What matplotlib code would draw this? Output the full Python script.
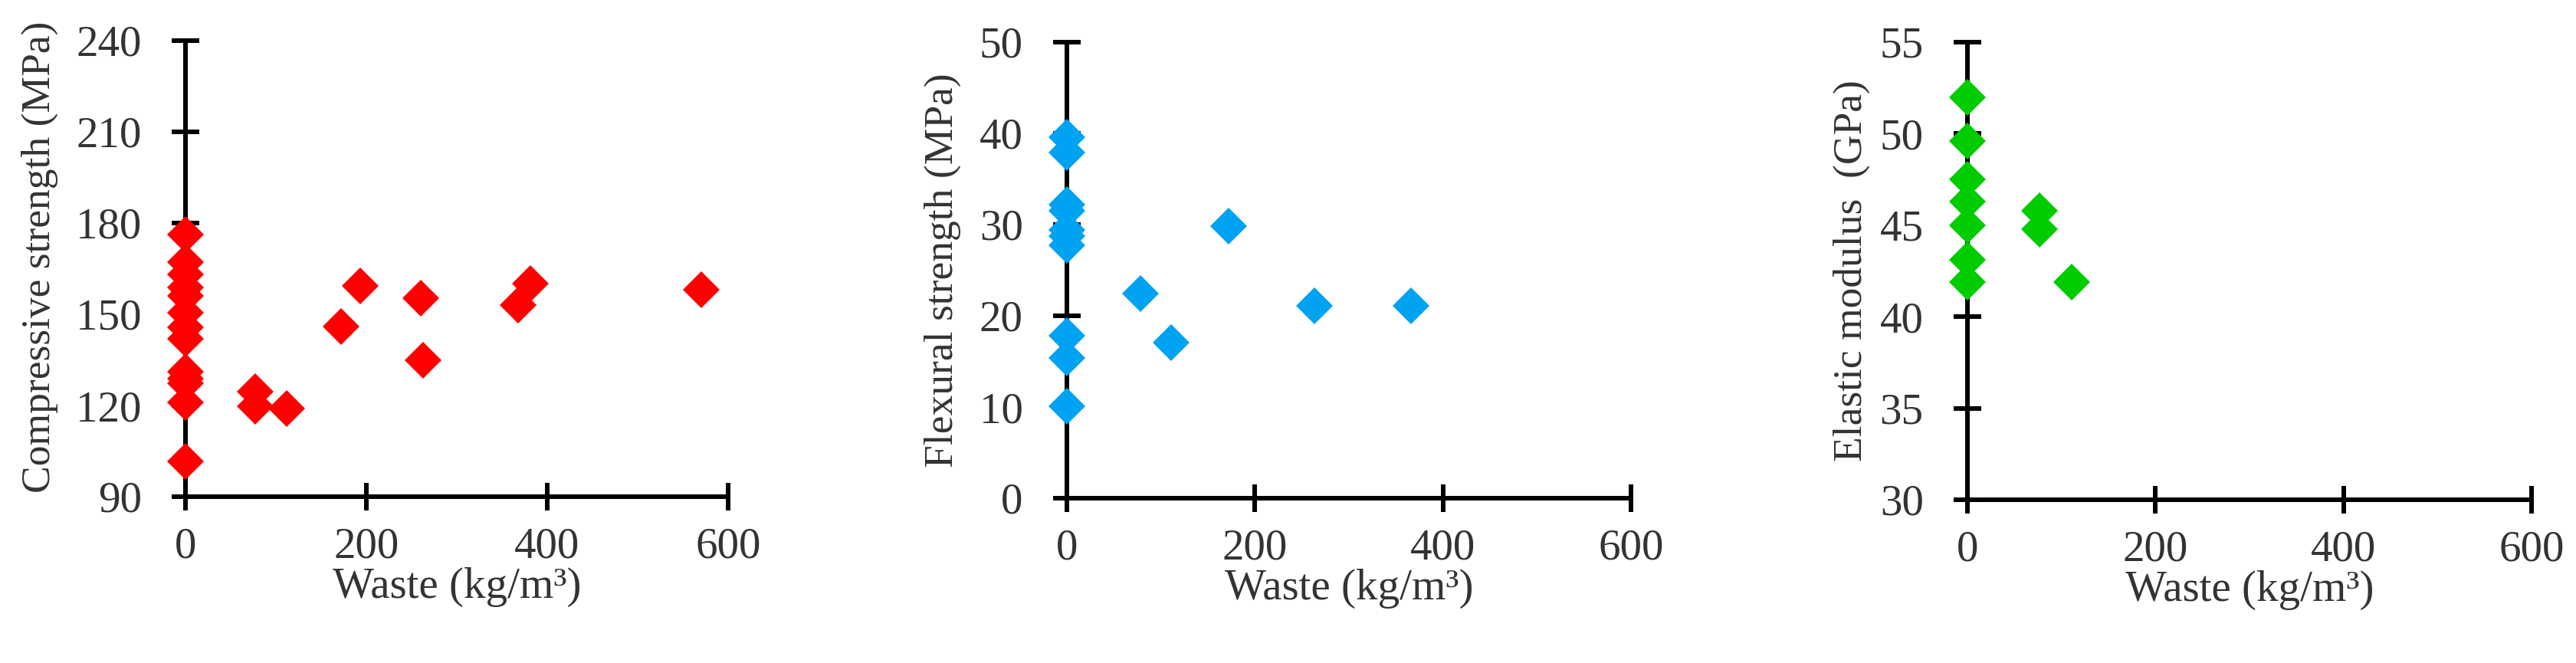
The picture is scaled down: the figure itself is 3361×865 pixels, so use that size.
import matplotlib
matplotlib.use('Agg')
import matplotlib.pyplot as plt

# compressive strength (MPa) vs waste (kg/m3)
comp_x = [0, 0, 0, 0, 0, 0, 0, 0, 0, 0, 0, 0, 0,
          77, 77, 112, 172, 193, 260, 263, 368, 381, 570]
comp_y = [176.3, 167.2, 163, 158.8, 156, 150.4, 145.6, 142, 131, 128.8, 127.4, 121.1, 101.5,
          124.6, 119.8, 119, 146, 159.3, 155.2, 135, 153, 160.2, 158.1]

# flexural strength (MPa)
flex_x = [0, 0, 0, 0, 0, 0, 0, 0, 0, 0,
          78, 111, 172, 263, 366]
flex_y = [39.6, 37.9, 32.2, 31.5, 29.4, 28.7, 27.7, 17.8, 15.4, 10.1,
          22.4, 17.1, 29.8, 21.1, 21.1]

# elastic modulus (GPa)
elas_x = [0, 0, 0, 0, 0, 0, 0, 77, 77, 111]
elas_y = [52.0, 49.6, 47.5, 46.3, 45.0, 43.1, 41.9, 45.8, 44.8, 41.9]

x_ticks = [0, 200, 400, 600]
panels = [
    (comp_x, comp_y, '#FF0000', 'Compressive strength (MPa)', [90, 120, 150, 180, 210, 240]),
    (flex_x, flex_y, '#00A2F2', 'Flexural strength (MPa)', [0, 10, 20, 30, 40, 50]),
    (elas_x, elas_y, '#00CC00', 'Elastic modulus  (GPa)', [30, 35, 40, 45, 50, 55]),
]

W, H = 3362, 865
# axes boxes in pixels: left, right, top, bottom
boxes = [(242, 950, 53, 648), (1392, 2128, 55, 650), (2567, 3303, 55, 652)]
# y label anchor, axes fraction
ylab_pos = [(-0.235, 0.525), (-0.188, 0.5), (-0.172, 0.5)]

plt.rcParams['font.family'] = ['Liberation Serif', 'DejaVu Serif']
txt = '#333333'

fig = plt.figure(figsize=(W / 100.0, H / 100.0), dpi=100)
for (xs, ys, col, ylab, yt), (l, r, t, b), lp in zip(panels, boxes, ylab_pos):
    ax = fig.add_axes([l / W, 1 - b / H, (r - l) / W, (b - t) / H])
    ax.plot(xs, ys, linestyle='None', marker='D', ms=24, color=col,
            markeredgewidth=0, clip_on=False, zorder=5)
    ax.set_xlim(0, 600)
    ax.set_ylim(yt[0], yt[-1])
    ax.set_xticks(x_ticks)
    ax.set_yticks(yt)
    for s in ['top', 'right']:
        ax.spines[s].set_visible(False)
    for s in ['left', 'bottom']:
        ax.spines[s].set_linewidth(4.3)
        ax.spines[s].set_color('black')
    ax.tick_params(axis='both', direction='inout', length=26.6, width=4.3,
                   colors='black', labelcolor=txt, labelsize=41)
    ax.tick_params(axis='x', pad=15)
    ax.tick_params(axis='y', pad=28)
    ax.set_xlabel('Waste (kg/m³)', fontsize=41, color=txt, labelpad=0)
    ax.set_ylabel(ylab, fontsize=38.5, color=txt)
    ax.yaxis.set_label_coords(lp[0], lp[1])

plt.savefig('out.png', dpi=100)
